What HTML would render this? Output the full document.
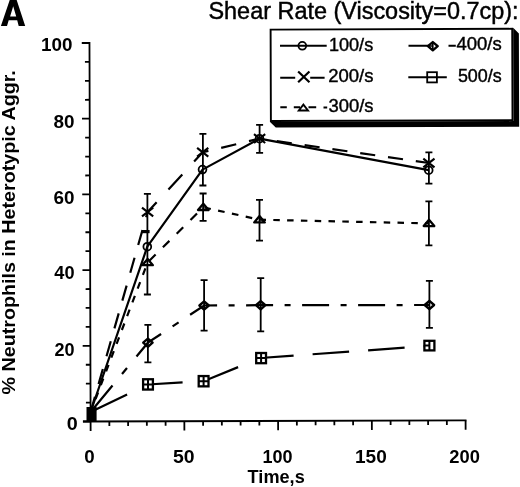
<!DOCTYPE html>
<html><head><meta charset="utf-8"><style>
html,body{margin:0;padding:0;background:#fff;}
svg{display:block;filter:grayscale(1) blur(0.35px);}
text{font-family:"Liberation Sans",sans-serif;fill:#000;}
</style></head><body>
<svg width="520" height="487" viewBox="0 0 520 487">
<rect width="520" height="487" fill="#fff"/>
<path fill-rule="evenodd" fill="#000" d="M0.9 25.9 L9.9 -0.5 L16.5 -0.5 L25.2 25.9 L18.7 25.9 L17.2 20.3 L8.7 20.3 L7 25.9 Z M13.2 6.3 L16.2 16.6 L10.1 16.6 Z"/>
<text x="208.45" y="19" font-size="23.5" font-weight="normal" textLength="310.18" lengthAdjust="spacingAndGlyphs" stroke="#000" stroke-width="0.45">Shear Rate (Viscosity=0.7cp):</text>
<g transform="rotate(-0.18 391 75)">
<polygon points="513.3,28.2 519,33.9 519,127.2 275.6,127.2 269.9,121.5 513.3,121.5" fill="#000"/>
<rect x="270.75" y="29.2" width="241.6" height="91.4" fill="#fff" stroke="#000" stroke-width="1.9"/>
</g>
<g transform="rotate(-0.17 90.6 421.5)">
<path d="M90.6 42.0 V422.4 M83 421.5 H466.5" stroke="#000" stroke-width="1.8" fill="none"/>
<path d="M82.9 421.5 H90.6 M86 402.57 H90.6 M86 383.65 H90.6 M86 364.73 H90.6 M82.9 345.8 H90.6 M86 326.88 H90.6 M86 307.95 H90.6 M86 289.02 H90.6 M82.9 270.1 H90.6 M86 251.17 H90.6 M86 232.25 H90.6 M86 213.32 H90.6 M82.9 194.4 H90.6 M86 175.47 H90.6 M86 156.55 H90.6 M86 137.62 H90.6 M82.9 118.7 H90.6 M86 99.77 H90.6 M86 80.85 H90.6 M86 61.93 H90.6 M82.9 43 H90.6 M90.6 421.5 V430.9 M109.35 421.5 V426.0 M128.1 421.5 V426.0 M146.85 421.5 V426.0 M165.6 421.5 V426.0 M184.35 421.5 V430.9 M203.1 421.5 V426.0 M221.85 421.5 V426.0 M240.6 421.5 V426.0 M259.35 421.5 V426.0 M278.1 421.5 V430.9 M296.85 421.5 V426.0 M315.6 421.5 V426.0 M334.35 421.5 V426.0 M353.1 421.5 V426.0 M371.85 421.5 V430.9 M390.6 421.5 V426.0 M409.35 421.5 V426.0 M428.1 421.5 V426.0 M446.85 421.5 V426.0 M465.6 421.5 V430.9" stroke="#000" stroke-width="1.8" fill="none"/>
</g>
<text x="41.02" y="51.1" font-size="19" font-weight="bold" textLength="31.45" lengthAdjust="spacingAndGlyphs">100</text>
<text x="53.49" y="128.4" font-size="19" font-weight="bold" textLength="21.01" lengthAdjust="spacingAndGlyphs">80</text>
<text x="53.59" y="203.8" font-size="19" font-weight="bold" textLength="21.01" lengthAdjust="spacingAndGlyphs">60</text>
<text x="54.33" y="278.8" font-size="19" font-weight="bold" textLength="20.24" lengthAdjust="spacingAndGlyphs">40</text>
<text x="54.47" y="356" font-size="19" font-weight="bold" textLength="20.1" lengthAdjust="spacingAndGlyphs">20</text>
<text x="66.81" y="429.6" font-size="19" font-weight="bold" textLength="11.01" lengthAdjust="spacingAndGlyphs">0</text>
<text x="84.25" y="462.7" font-size="19" font-weight="bold" textLength="10.42" lengthAdjust="spacingAndGlyphs">0</text>
<text x="172.92" y="462.7" font-size="19" font-weight="bold" textLength="21.61" lengthAdjust="spacingAndGlyphs">50</text>
<text x="262.57" y="462.7" font-size="19" font-weight="bold" textLength="30.07" lengthAdjust="spacingAndGlyphs">100</text>
<text x="355.01" y="462.7" font-size="19" font-weight="bold" textLength="31.77" lengthAdjust="spacingAndGlyphs">150</text>
<text x="449.36" y="462.7" font-size="19" font-weight="bold" textLength="30.59" lengthAdjust="spacingAndGlyphs">200</text>
<text x="247.62" y="482.7" font-size="17.6" font-weight="bold" textLength="57.11" lengthAdjust="spacingAndGlyphs">Time,s</text>
<text x="-394.49" y="15.4" font-size="19.2" font-weight="bold" textLength="324.23" lengthAdjust="spacingAndGlyphs" transform="rotate(-90)">% Neutrophils in Heterotypic Aggr.</text>
<path d="M90.6 412 L147.3 246.7 L202.5 169.6 L259.5 138.7 L428.7 170.2" fill="none" stroke="#000" stroke-width="2.2" stroke-linejoin="round"/>
<path d="M90.66 411.8 L94.93 396.8 M98.58 384 L102.85 369 M106.5 356.2 L110.78 341.2 M114.43 328.4 L118.7 313.4 M122.35 300.6 L126.62 285.6 M130.27 272.8 L134.55 257.8 M138.19 245 L142.47 230 M146.12 217.2 L147.6 212 L156.64 202.2 M168.46 189.4 L182.3 174.4 M194.12 161.6 L202.7 152.3 L208.4 150.93 M221.2 147.85 L236.2 144.23 M249 141.15 L259.6 138.6 L264 139.23 M276.8 141.08 L291.8 143.24 M304.6 145.09 L319.6 147.25 M332.4 149.09 L347.4 151.25 M360.2 153.1 L375.2 155.26 M388 157.11 L403 159.27 M415.8 161.11 L428.9 163" fill="none" stroke="#000" stroke-width="2.2" stroke-linejoin="miter"/>
<path d="M90.6 412 L92.77 406.3 M95.56 399 L98.03 392.5 M100.82 385.2 L103.3 378.7 M106.08 371.4 L108.56 364.9 M111.34 357.6 L113.82 351.1 M116.6 343.8 L119.08 337.3 M121.86 330 L124.34 323.5 M127.13 316.2 L129.6 309.7 M132.39 302.4 L134.87 295.9 M137.65 288.6 L140.13 282.1 M142.91 274.8 L145.39 268.3 M149.1 261.01 L155.6 254.57 M162.9 247.34 L169.4 240.9 M176.7 233.66 L183.2 227.22 M190.5 219.99 L197 213.54 M204.3 207.52 L210.8 208.95 M218.1 210.57 L224.6 212 M231.9 213.61 L238.4 215.04 M245.7 216.66 L252.2 218.09 M259.5 219.7 L266 219.84 M273.3 220 L279.8 220.14 M287.1 220.3 L293.6 220.44 M300.9 220.6 L307.4 220.75 M314.7 220.9 L321.2 221.05 M328.5 221.21 L335 221.35 M342.3 221.51 L348.8 221.65 M356.1 221.81 L362.6 221.95 M369.9 222.11 L376.4 222.25 M383.7 222.41 L390.2 222.55 M397.5 222.71 L404 222.85 M411.3 223.01 L417.8 223.16 M425.1 223.31 L429 223.4" fill="none" stroke="#000" stroke-width="2.2" stroke-linejoin="miter"/>
<path d="M90.6 412 L112.51 385.5 M122.02 374 L126.98 368 M136.49 356.5 L147.9 342.7 L161.1 333.96 M172.6 326.35 L178.6 322.38 M190.1 314.77 L204.1 305.5 L217.1 305.43 M228.6 305.37 L234.6 305.34 M246.1 305.28 L260.7 305.2 L273.1 305.19 M284.6 305.17 L290.6 305.16 M302.1 305.15 L329.1 305.12 M340.6 305.11 L346.6 305.1 M358.1 305.08 L385.1 305.05 M396.6 305.04 L402.6 305.03 M414.1 305.02 L429.4 305" fill="none" stroke="#000" stroke-width="2.2" stroke-linejoin="miter"/>
<path d="M90.6 412 L127.1 394.51 M146.1 385.41 L148 384.5 L182.6 382.45 M201.6 381.32 L203.6 381.2 L238.1 367.11 M257.1 359.35 L260.4 358 L293.6 355.63 M312.6 354.27 L349.1 351.66 M368.1 350.3 L404.6 347.69 M423.6 346.34 L429.7 345.9" fill="none" stroke="#000" stroke-width="2.2" stroke-linejoin="miter"/>
<path d="M147.4 193.9 V294.5 M143.9 193.9 h7 M143.9 294.5 h7" stroke="#000" stroke-width="1.8" fill="none"/>
<path d="M141.8 231.6 H149.6" stroke="#000" stroke-width="3.2"/>
<path d="M147.9 324.8 V362.3 M144.4 324.8 h7 M144.4 362.3 h7" stroke="#000" stroke-width="1.8" fill="none"/>
<path d="M202.9 133.9 V185.5 M199.4 133.9 h7 M199.4 185.5 h7" stroke="#000" stroke-width="1.8" fill="none"/>
<path d="M203.1 193.5 V220.8 M199.6 193.5 h7 M199.6 220.8 h7" stroke="#000" stroke-width="1.8" fill="none"/>
<path d="M204.1 280.1 V330.6 M200.6 280.1 h7 M200.6 330.6 h7" stroke="#000" stroke-width="1.8" fill="none"/>
<path d="M259.6 124.9 V152.9 M256.1 124.9 h7 M256.1 152.9 h7" stroke="#000" stroke-width="1.8" fill="none"/>
<path d="M259.5 199.9 V240.6 M256 199.9 h7 M256 240.6 h7" stroke="#000" stroke-width="1.8" fill="none"/>
<path d="M260.7 278.1 V331.4 M257.2 278.1 h7 M257.2 331.4 h7" stroke="#000" stroke-width="1.8" fill="none"/>
<path d="M428.9 152.4 V183.6 M425.4 152.4 h7 M425.4 183.6 h7" stroke="#000" stroke-width="1.8" fill="none"/>
<path d="M428.9 201.3 V245.4 M425.4 201.3 h7 M425.4 245.4 h7" stroke="#000" stroke-width="1.8" fill="none"/>
<path d="M429.4 280.8 V327.8 M425.9 280.8 h7 M425.9 327.8 h7" stroke="#000" stroke-width="1.8" fill="none"/>
<rect x="86.5" y="407" width="10.1" height="14" fill="#000"/>
<circle cx="147.3" cy="246.7" r="3.9" fill="none" stroke="#000" stroke-width="1.8"/>
<circle cx="202.5" cy="169.6" r="3.9" fill="none" stroke="#000" stroke-width="1.8"/>
<circle cx="259.5" cy="138.7" r="3.9" fill="none" stroke="#000" stroke-width="1.8"/>
<circle cx="428.7" cy="170.2" r="3.9" fill="none" stroke="#000" stroke-width="1.8"/>
<path d="M142 207.6 L153.2 216.4 M142 216.4 L153.2 207.6" stroke="#000" stroke-width="2.1" fill="none"/>
<path d="M197.1 147.9 L208.3 156.7 M197.1 156.7 L208.3 147.9" stroke="#000" stroke-width="2.1" fill="none"/>
<path d="M254 134.2 L265.2 143 M254 143 L265.2 134.2" stroke="#000" stroke-width="2.1" fill="none"/>
<path d="M423.3 158.6 L434.5 167.4 M423.3 167.4 L434.5 158.6" stroke="#000" stroke-width="2.1" fill="none"/>
<path d="M147.6 258.9 L152.9 265.2 L142.3 265.2 Z" fill="none" stroke="#000" stroke-width="2.3" stroke-linejoin="round"/>
<path d="M203.3 203.7 L208.6 210 L198 210 Z" fill="none" stroke="#000" stroke-width="2.3" stroke-linejoin="round"/>
<path d="M259.5 216.1 L264.8 222.4 L254.2 222.4 Z" fill="none" stroke="#000" stroke-width="2.3" stroke-linejoin="round"/>
<path d="M429 219.8 L434.3 226.1 L423.7 226.1 Z" fill="none" stroke="#000" stroke-width="2.3" stroke-linejoin="round"/>
<path d="M143.2 342.7 L147.9 338.55 L152.6 342.7 L147.9 346.85 Z" fill="none" stroke="#000" stroke-width="2.4" stroke-linejoin="round"/>
<path d="M199.4 305.5 L204.1 301.35 L208.8 305.5 L204.1 309.65 Z" fill="none" stroke="#000" stroke-width="2.4" stroke-linejoin="round"/>
<path d="M256 305.2 L260.7 301.05 L265.4 305.2 L260.7 309.35 Z" fill="none" stroke="#000" stroke-width="2.4" stroke-linejoin="round"/>
<path d="M424.7 305 L429.4 300.85 L434.1 305 L429.4 309.15 Z" fill="none" stroke="#000" stroke-width="2.4" stroke-linejoin="round"/>
<rect x="143.1" y="379.25" width="9.8" height="10.3" fill="#fff" stroke="#000" stroke-width="2.3"/>
<path d="M148 379.25 V389.55 M143.1 384.4 H152.9" stroke="#000" stroke-width="2.0"/>
<rect x="198.7" y="376.05" width="9.8" height="10.3" fill="#fff" stroke="#000" stroke-width="2.3"/>
<path d="M203.6 376.05 V386.35 M198.7 381.2 H208.5" stroke="#000" stroke-width="2.0"/>
<rect x="256.2" y="353" width="9.8" height="10.2" fill="#fff" stroke="#000" stroke-width="2.3"/>
<path d="M261.1 353 V363.2 M256.2 358.1 H266" stroke="#000" stroke-width="2.0"/>
<rect x="424.4" y="340.8" width="10" height="9.6" fill="#fff" stroke="#000" stroke-width="2.3"/>
<path d="M429.4 340.8 V350.4 M424.4 345.6 H429.4" stroke="#000" stroke-width="2.0"/>
<path d="M280 45.8 H326.7" stroke="#000" stroke-width="2"/>
<circle cx="302.3" cy="45.8" r="3.9" fill="none" stroke="#000" stroke-width="1.8"/>
<text x="328.94" y="50.5" font-size="18" font-weight="normal" textLength="44.27" lengthAdjust="spacingAndGlyphs" stroke="#000" stroke-width="0.4">100/s</text>
<path d="M280.2 77.7 H295.2 M310.2 77.7 H324.6" stroke="#000" stroke-width="2.1"/>
<path d="M298.15 71.5 L309.45 82.3 M298.15 82.3 L309.45 71.5" stroke="#000" stroke-width="2.2" fill="none"/>
<text x="328.28" y="82.2" font-size="18" font-weight="normal" textLength="45.25" lengthAdjust="spacingAndGlyphs" stroke="#000" stroke-width="0.4">200/s</text>
<path d="M280.3 107.3 H286.8 M293.8 107.3 H300 M308.5 107.3 H316.2 M323.5 107.5 H327.2" stroke="#000" stroke-width="2"/>
<path d="M303.4 104.6 L308 110.5 L298.8 110.5 Z" fill="#fff" stroke="#000" stroke-width="1.9" stroke-linejoin="miter"/>
<text x="328.51" y="112.2" font-size="18" font-weight="normal" textLength="45.01" lengthAdjust="spacingAndGlyphs" stroke="#000" stroke-width="0.4">300/s</text>
<path d="M408.5 45.7 H432 M448.5 45.8 H455.8" stroke="#000" stroke-width="2"/>
<path d="M427.9 46.2 L432.8 42.1 L437.7 46.2 L432.8 50.3 Z" fill="#fff" stroke="#000" stroke-width="2.4" stroke-linejoin="round"/>
<path d="M428 46 H433 M432.8 43.5 V49" stroke="#000" stroke-width="1.6"/>
<text x="456.48" y="50.3" font-size="18" font-weight="normal" textLength="45.24" lengthAdjust="spacingAndGlyphs" stroke="#000" stroke-width="0.4">400/s</text>
<path d="M408.3 77.3 H446.8" stroke="#000" stroke-width="1.9"/>
<rect x="427.2" y="72.2" width="9.7" height="10.2" fill="none" stroke="#000" stroke-width="1.8"/>
<text x="457.88" y="81.6" font-size="18" font-weight="normal" textLength="43.82" lengthAdjust="spacingAndGlyphs" stroke="#000" stroke-width="0.4">500/s</text>
</svg>
</body></html>
